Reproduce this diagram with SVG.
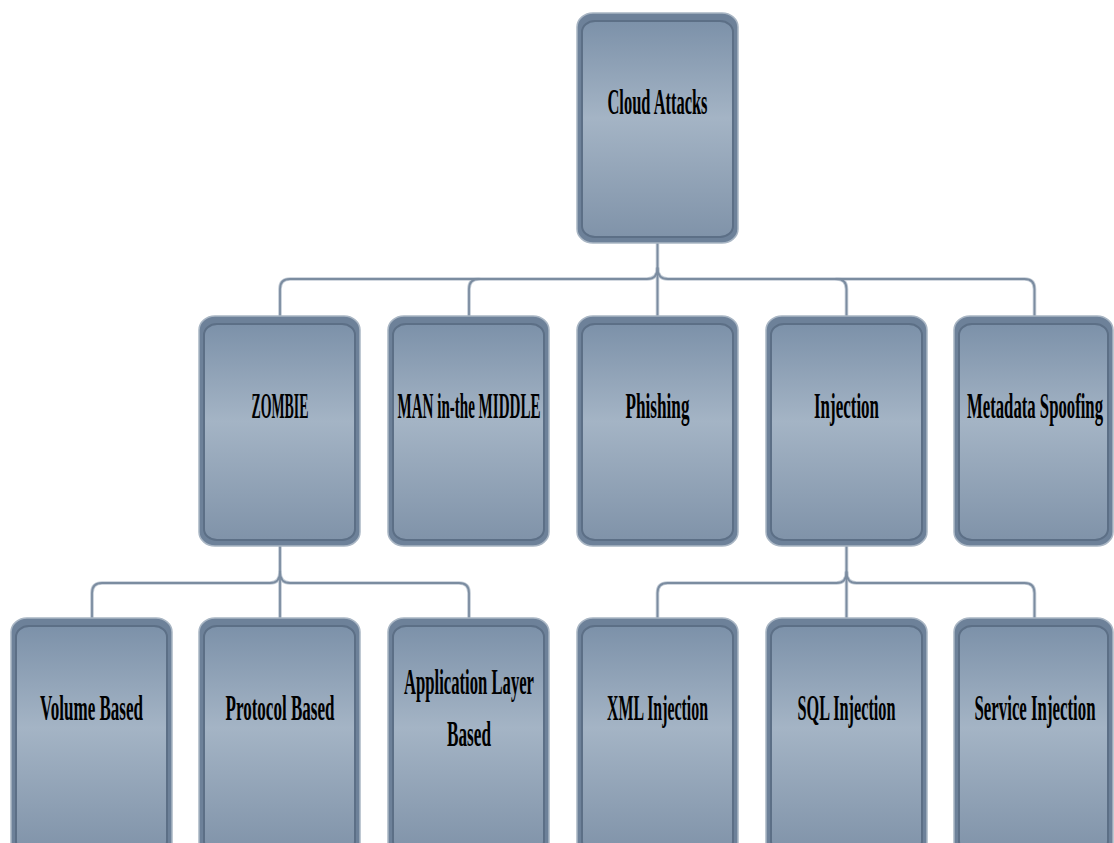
<svg xmlns="http://www.w3.org/2000/svg" width="1114" height="843" viewBox="0 0 1114 843">
  <defs>
    <linearGradient id="face" x1="0" y1="0" x2="0" y2="1">
      <stop offset="0" stop-color="#7c91a9"/>
      <stop offset="0.45" stop-color="#a4b4c5"/>
      <stop offset="1" stop-color="#8093a9"/>
    </linearGradient>
  </defs>
  <style>
    .shell { fill: #6d8199; stroke: #a9b6c4; stroke-width: 1.5; }
    .face { fill: url(#face); stroke: #5c6f86; stroke-width: 2; }
    .label { font-family: "Liberation Serif", "DejaVu Serif", serif; font-weight: bold; font-size: 36px; fill: #000; text-anchor: middle; }
    .halo { fill: none; stroke: #c3ccd6; stroke-width: 3.6; stroke-linecap: round; stroke-linejoin: round; }
    .wire { fill: none; stroke: #7b8ca0; stroke-width: 1.8; stroke-linecap: round; stroke-linejoin: round; }
  </style>

  <rect width="1114" height="843" fill="#ffffff"/>

  <!-- connectors: halo underneath, wire on top -->
  <g id="connectors">
    <g class="halo">
      <path d="M657.5 243 V268 Q657.5 279 647 279 H290 Q280 279 280 289 V316"/>
      <path d="M479 279 Q469 279 469 289 V316"/>
      <path d="M657.5 268 V316"/>
      <path d="M657.5 268 Q657.5 279 668 279 H1024.5 Q1034.5 279 1034.5 289 V316"/>
      <path d="M836.5 279 Q846.5 279 846.5 289 V316"/>
      <path d="M280 546 V572 Q280 583 270 583 H102 Q92 583 92 593 V618"/>
      <path d="M280 572 V618"/>
      <path d="M280 572 Q280 583 290 583 H459 Q469 583 469 593 V618"/>
      <path d="M846.5 546 V572 Q846.5 583 836.5 583 H667.5 Q657.5 583 657.5 593 V618"/>
      <path d="M846.5 572 V618"/>
      <path d="M846.5 572 Q846.5 583 856.5 583 H1024.5 Q1034.5 583 1034.5 593 V618"/>
    </g>
    <g class="wire">
      <path d="M657.5 243 V268 Q657.5 279 647 279 H290 Q280 279 280 289 V316"/>
      <path d="M479 279 Q469 279 469 289 V316"/>
      <path d="M657.5 268 V316"/>
      <path d="M657.5 268 Q657.5 279 668 279 H1024.5 Q1034.5 279 1034.5 289 V316"/>
      <path d="M836.5 279 Q846.5 279 846.5 289 V316"/>
      <path d="M280 546 V572 Q280 583 270 583 H102 Q92 583 92 593 V618"/>
      <path d="M280 572 V618"/>
      <path d="M280 572 Q280 583 290 583 H459 Q469 583 469 593 V618"/>
      <path d="M846.5 546 V572 Q846.5 583 836.5 583 H667.5 Q657.5 583 657.5 593 V618"/>
      <path d="M846.5 572 V618"/>
      <path d="M846.5 572 Q846.5 583 856.5 583 H1024.5 Q1034.5 583 1034.5 593 V618"/>
    </g>
  </g>

  <!-- labels are set in a condensed face: half-width scale, doubled textLength -->

  <!-- root -->
  <g id="cloud-attacks">
    <rect class="shell" x="577" y="13" width="161" height="230" rx="16" ry="14"/>
    <rect class="face" x="582" y="21" width="151" height="216" rx="13" ry="11"/>
    <text class="label" transform="translate(657.5 114) scale(0.5 1)" textLength="200" lengthAdjust="spacingAndGlyphs">Cloud Attacks</text>
  </g>

  <!-- second level -->
  <g id="zombie">
    <rect class="shell" x="199" y="316" width="161" height="230" rx="16" ry="14"/>
    <rect class="face" x="204" y="324" width="151" height="216" rx="13" ry="11"/>
    <text class="label" transform="translate(280 418) scale(0.5 1)" textLength="114" lengthAdjust="spacingAndGlyphs">ZOMBIE</text>
  </g>
  <g id="man-in-the-middle">
    <rect class="shell" x="388" y="316" width="161" height="230" rx="16" ry="14"/>
    <rect class="face" x="393" y="324" width="151" height="216" rx="13" ry="11"/>
    <text class="label" transform="translate(469 418) scale(0.5 1)" textLength="286" lengthAdjust="spacingAndGlyphs">MAN in-the MIDDLE</text>
  </g>
  <g id="phishing">
    <rect class="shell" x="577" y="316" width="161" height="230" rx="16" ry="14"/>
    <rect class="face" x="582" y="324" width="151" height="216" rx="13" ry="11"/>
    <text class="label" transform="translate(657.5 418) scale(0.5 1)" textLength="128" lengthAdjust="spacingAndGlyphs">Phishing</text>
  </g>
  <g id="injection">
    <rect class="shell" x="766" y="316" width="161" height="230" rx="16" ry="14"/>
    <rect class="face" x="771" y="324" width="151" height="216" rx="13" ry="11"/>
    <text class="label" transform="translate(846.5 418) scale(0.5 1)" textLength="130" lengthAdjust="spacingAndGlyphs">Injection</text>
  </g>
  <g id="metadata-spoofing">
    <rect class="shell" x="954" y="316" width="159" height="230" rx="16" ry="14"/>
    <rect class="face" x="959" y="324" width="149" height="216" rx="13" ry="11"/>
    <text class="label" transform="translate(1035 418) scale(0.5 1)" textLength="272" lengthAdjust="spacingAndGlyphs">Metadata Spoofing</text>
  </g>

  <!-- third level -->
  <g id="volume-based">
    <rect class="shell" x="11" y="618" width="161" height="240" rx="16" ry="14"/>
    <rect class="face" x="16" y="626" width="151" height="226" rx="13" ry="11"/>
    <text class="label" transform="translate(91.5 720) scale(0.5 1)" textLength="206" lengthAdjust="spacingAndGlyphs">Volume Based</text>
  </g>
  <g id="protocol-based">
    <rect class="shell" x="199" y="618" width="161" height="240" rx="16" ry="14"/>
    <rect class="face" x="204" y="626" width="151" height="226" rx="13" ry="11"/>
    <text class="label" transform="translate(280 720) scale(0.5 1)" textLength="218" lengthAdjust="spacingAndGlyphs">Protocol Based</text>
  </g>
  <g id="application-layer-based">
    <rect class="shell" x="388" y="618" width="161" height="240" rx="16" ry="14"/>
    <rect class="face" x="393" y="626" width="151" height="226" rx="13" ry="11"/>
    <text class="label" transform="translate(469 694) scale(0.5 1)" textLength="260" lengthAdjust="spacingAndGlyphs">Application Layer</text>
    <text class="label" transform="translate(469 746) scale(0.5 1)" textLength="88" lengthAdjust="spacingAndGlyphs">Based</text>
  </g>
  <g id="xml-injection">
    <rect class="shell" x="577" y="618" width="161" height="240" rx="16" ry="14"/>
    <rect class="face" x="582" y="626" width="151" height="226" rx="13" ry="11"/>
    <text class="label" transform="translate(657.5 720) scale(0.5 1)" textLength="202" lengthAdjust="spacingAndGlyphs">XML Injection</text>
  </g>
  <g id="sql-injection">
    <rect class="shell" x="766" y="618" width="161" height="240" rx="16" ry="14"/>
    <rect class="face" x="771" y="626" width="151" height="226" rx="13" ry="11"/>
    <text class="label" transform="translate(846.5 720) scale(0.5 1)" textLength="196" lengthAdjust="spacingAndGlyphs">SQL Injection</text>
  </g>
  <g id="service-injection">
    <rect class="shell" x="954" y="618" width="159" height="240" rx="16" ry="14"/>
    <rect class="face" x="959" y="626" width="149" height="226" rx="13" ry="11"/>
    <text class="label" transform="translate(1035 720) scale(0.5 1)" textLength="242" lengthAdjust="spacingAndGlyphs">Service Injection</text>
  </g>
</svg>
